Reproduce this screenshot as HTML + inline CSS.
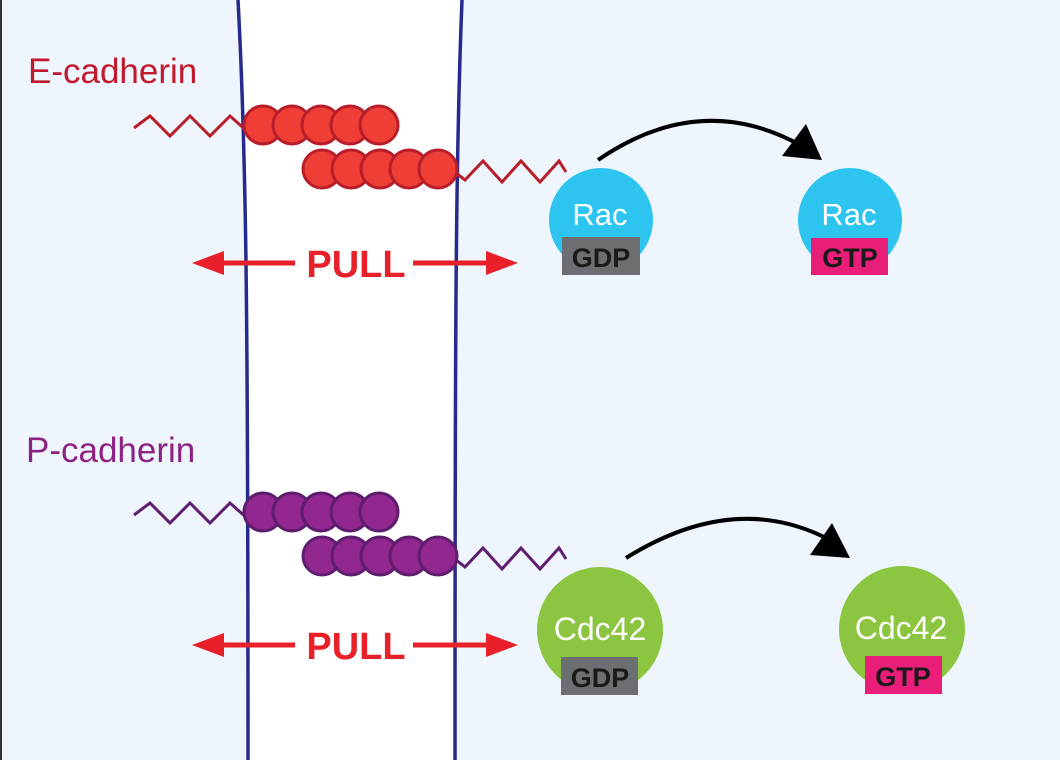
<!DOCTYPE html>
<html><head><meta charset="utf-8"><style>html,body{margin:0;padding:0;background:#eef5fc}svg{display:block}text{font-family:"Liberation Sans",sans-serif}</style></head><body>
<svg width="1060" height="760" viewBox="0 0 1060 760">
<rect width="1060" height="760" fill="#eef5fc"/>
<line x1="1" y1="0" x2="1" y2="760" stroke="#333" stroke-width="2"/>
<path d="M238,0 C246,150 248,300 248,760 L455,760 C455,300 456,150 462,0 Z" fill="#ffffff"/>
<path d="M238,0 C246,150 248,300 248,760" fill="none" stroke="#262a8c" stroke-width="3.5"/>
<path d="M462,0 C456,150 455,300 455,760" fill="none" stroke="#262a8c" stroke-width="3.5"/>
<text x="28" y="83" font-size="35" fill="#c0182c">E-cadherin</text>
<text x="26" y="462" font-size="35" fill="#8c2281">P-cadherin</text>
<g stroke="#b81e2a" stroke-width="3" fill="#ee3e36">
<polyline fill="none" points="134,128 150,116 170,136 190,116 210,136 230,116 248,132 256,126"/>
<polyline fill="none" points="452,170 465,180 483,161 502,182 521,161 540,182 559,161 566,172"/>
<circle cx="263" cy="125" r="19"/><circle cx="292" cy="125" r="19"/><circle cx="321" cy="125" r="19"/><circle cx="350" cy="125" r="19"/><circle cx="379" cy="125" r="19"/>
<circle cx="322" cy="169" r="19"/><circle cx="351" cy="169" r="19"/><circle cx="380" cy="169" r="19"/><circle cx="409" cy="169" r="19"/><circle cx="438" cy="169" r="19"/>
</g>
<g stroke="#5e1d6e" stroke-width="3" fill="#91278f">
<polyline fill="none" points="134,515 150,503 170,523 190,503 210,523 230,503 248,519 256,513"/>
<polyline fill="none" points="452,557 465,567 483,548 502,569 521,548 540,569 559,548 566,559"/>
<circle cx="263" cy="512" r="19"/><circle cx="292" cy="512" r="19"/><circle cx="321" cy="512" r="19"/><circle cx="350" cy="512" r="19"/><circle cx="379" cy="512" r="19"/>
<circle cx="322" cy="556" r="19"/><circle cx="351" cy="556" r="19"/><circle cx="380" cy="556" r="19"/><circle cx="409" cy="556" r="19"/><circle cx="438" cy="556" r="19"/>
</g>
<g fill="#e8202a" stroke="#e8202a">
<line x1="220" y1="263" x2="295" y2="263" stroke-width="5"/><polygon points="192,263 224,251 224,275" stroke="none"/>
<line x1="413" y1="263" x2="490" y2="263" stroke-width="5"/><polygon points="518,263 486,251 486,275" stroke="none"/>
<text x="356" y="277" font-size="38" font-weight="bold" text-anchor="middle" stroke="none">PULL</text>
</g>
<g fill="#e8202a" stroke="#e8202a">
<line x1="220" y1="645" x2="295" y2="645" stroke-width="5"/><polygon points="192,645 224,633 224,657" stroke="none"/>
<line x1="413" y1="645" x2="490" y2="645" stroke-width="5"/><polygon points="518,645 486,633 486,657" stroke="none"/>
<text x="356" y="659" font-size="38" font-weight="bold" text-anchor="middle" stroke="none">PULL</text>
</g>
<g>
<circle cx="601" cy="220" r="52" fill="#2ec4f0"/>
<text x="600" y="225" font-size="31" fill="#fff" text-anchor="middle">Rac</text>
<rect x="562" y="237" width="78" height="38" fill="#6d6e71"/>
<text x="601" y="267" font-size="27" font-weight="bold" fill="#1a1a1a" text-anchor="middle">GDP</text>
</g>
<g>
<circle cx="850" cy="220" r="52" fill="#2ec4f0"/>
<text x="849" y="225" font-size="31" fill="#fff" text-anchor="middle">Rac</text>
<rect x="811" y="238" width="77" height="37" fill="#e91e78"/>
<text x="850" y="267" font-size="27" font-weight="bold" fill="#1a1a1a" text-anchor="middle">GTP</text>
</g>
<g>
<circle cx="600" cy="630" r="63" fill="#8cc540"/>
<text x="600" y="640" font-size="32" fill="#fff" text-anchor="middle">Cdc42</text>
<rect x="561" y="657" width="77" height="38" fill="#6d6e71"/>
<text x="600" y="687" font-size="27" font-weight="bold" fill="#1a1a1a" text-anchor="middle">GDP</text>
</g>
<g>
<circle cx="902" cy="629" r="63" fill="#8cc540"/>
<text x="901" y="639" font-size="32" fill="#fff" text-anchor="middle">Cdc42</text>
<rect x="865" y="656" width="77" height="38" fill="#e91e78"/>
<text x="903" y="686" font-size="27" font-weight="bold" fill="#1a1a1a" text-anchor="middle">GTP</text>
</g>
<g>
<path d="M598,160 Q700,90 800,145" fill="none" stroke="#000" stroke-width="4"/>
<polygon points="822,160 782,156 806,124" fill="#000"/>
</g>
<g>
<path d="M626,558 Q735,490 830,540" fill="none" stroke="#000" stroke-width="4"/>
<polygon points="850,558 810,555 832,523" fill="#000"/>
</g>
</svg>
</body></html>
